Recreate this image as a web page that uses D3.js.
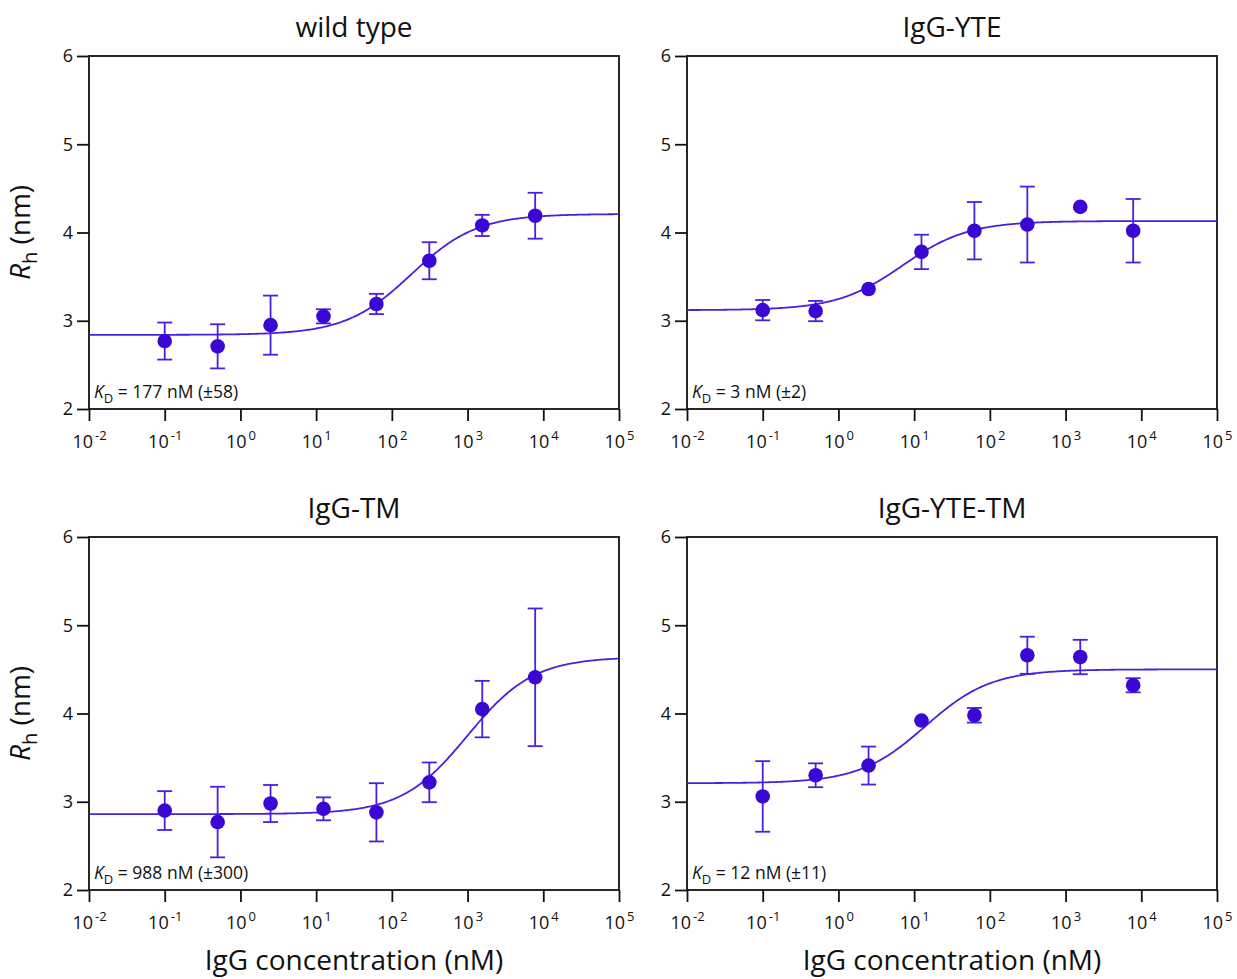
<!DOCTYPE html>
<html>
<head>
<meta charset="utf-8">
<script src="https://cdn.jsdelivr.net/npm/d3@7"></script>
<style>
    body { margin: 0; background: #fff; }
    text { font-family: "Open Sans", "Noto Sans", sans-serif; fill: #111; }
</style>
</head>
<body>
<script>
var svgWidth = 1237;
var svgHeight = 979;

// concentrations of the 5-fold dilution series (nM)
var concentrations = [0.1, 0.5, 2.5, 12.5, 62.5, 312.5, 1562.5, 7812.5];

// panel titles and KD annotation
var titles = ["wild type", "IgG-YTE", "IgG-TM", "IgG-YTE-TM"];
var kdLabels = ["177 nM (\u00b158)", "3 nM (\u00b12)", "988 nM (\u00b1300)", "12 nM (\u00b111)"];

// mean Rh (nm) per panel
var meanWT = [2.77, 2.71, 2.95, 3.05, 3.19, 3.68, 4.08, 4.19];
var meanYTE = [3.12, 3.11, 3.36, 3.78, 4.02, 4.09, 4.29, 4.02];
var meanTM = [2.90, 2.77, 2.98, 2.92, 2.88, 3.22, 4.05, 4.41];
var meanYTETM = [3.06, 3.30, 3.41, 3.92, 3.98, 4.66, 4.64, 4.32];

// error bar half widths (nm)
var errWT = [0.21, 0.25, 0.335, 0.08, 0.115, 0.21, 0.12, 0.26];
var errYTE = [0.115, 0.115, 0, 0.195, 0.325, 0.43, 0, 0.36];
var errTM = [0.22, 0.40, 0.21, 0.13, 0.33, 0.225, 0.32, 0.78];
var errYTETM = [0.40, 0.135, 0.215, 0, 0.083, 0.21, 0.195, 0.08];

// fitted binding curve parameters: baseline, plateau, midpoint (nM)
var fitBottom = [2.84, 3.12, 2.86, 3.21];
var fitTop = [4.21, 4.13, 4.64, 4.50];
var fitMid = [180, 7, 1000, 14];

// tick values
var xTicks = [-2, -1, 0, 1, 2, 3, 4, 5];
var yTicks = [2, 3, 4, 5, 6];

var means = [meanWT, meanYTE, meanTM, meanYTETM];
var errs = [errWT, errYTE, errTM, errYTETM];

var plotW = 530, plotH = 353;
var origins = [[89, 56], [687, 56], [89, 537], [687, 537]];
var markColor = "#3a08d2";
var lineColor = "#4a1fe0";

var svg = d3.select("body").append("svg").attr("width", svgWidth).attr("height", svgHeight);

var x = d3.scaleLog().domain([1e-2, 1e5]).range([0, plotW]);
var y = d3.scaleLinear().domain([2, 6]).range([plotH, 0]);

titles.forEach(function(title, i) {
    var g = svg.append("g").attr("transform", "translate(" + origins[i][0] + "," + origins[i][1] + ")");

    // frame
    g.append("rect")
        .attr("width", plotW).attr("height", plotH)
        .attr("fill", "none").attr("stroke", "#111").attr("stroke-width", 1.8);

    // x axis
    var xAxis = g.append("g").attr("transform", "translate(0," + plotH + ")")
        .call(d3.axisBottom(x).tickValues(xTicks.map(function(e) { return Math.pow(10, e); })).tickSize(12).tickFormat(""));
    xAxis.select(".domain").remove();
    xAxis.selectAll("line").attr("stroke", "#111").attr("stroke-width", 1.8);
    xAxis.selectAll(".tick").each(function(d, j) {
        var t = d3.select(this).append("text")
            .attr("y", 39).attr("text-anchor", "middle")
            .style("font-size", "18px").style("fill", "#111");
        t.append("tspan").text("10");
        t.append("tspan").attr("dy", -8).attr("dx", 2).style("font-size", "13px").text(xTicks[j] < 0 ? "-" + Math.abs(xTicks[j]) : xTicks[j]);
    });

    // y axis
    var yAxis = g.append("g")
        .call(d3.axisLeft(y).tickValues(yTicks).tickSize(12).tickPadding(4).tickFormat(d3.format("d")));
    yAxis.select(".domain").remove();
    yAxis.selectAll("line").attr("stroke", "#111").attr("stroke-width", 1.8);
    yAxis.selectAll("text").style("font-size", "18px").style("fill", "#111")
        .style("font-family", "'Open Sans', 'Noto Sans', sans-serif");

    // title
    g.append("text")
        .attr("x", plotW / 2).attr("y", -19)
        .attr("text-anchor", "middle")
        .style("font-size", "28px")
        .text(title);

    // fitted curve
    var b = fitBottom[i], t = fitTop[i], k = fitMid[i];
    var curve = d3.range(-2, 5.001, 0.02).map(function(e) {
        var c = Math.pow(10, e);
        return [c, b + (t - b) * c / (k + c)];
    });
    g.append("path")
        .datum(curve)
        .attr("d", d3.line().x(function(p) { return x(p[0]); }).y(function(p) { return y(p[1]); }))
        .attr("fill", "none").attr("stroke", lineColor).attr("stroke-width", 1.8);

    // data
    var pts = concentrations.map(function(c, j) { return { c: c, m: means[i][j], e: errs[i][j] }; });
    var bars = g.selectAll(".err").data(pts.filter(function(p) { return p.e > 0; })).join("g").attr("class", "err");
    bars.append("line")
        .attr("x1", function(p) { return x(p.c); }).attr("x2", function(p) { return x(p.c); })
        .attr("y1", function(p) { return y(p.m - p.e); }).attr("y2", function(p) { return y(p.m + p.e); })
        .attr("stroke", lineColor).attr("stroke-width", 1.8);
    [-1, 1].forEach(function(s) {
        bars.append("line")
            .attr("x1", function(p) { return x(p.c) - 7.5; }).attr("x2", function(p) { return x(p.c) + 7.5; })
            .attr("y1", function(p) { return y(p.m + s * p.e); }).attr("y2", function(p) { return y(p.m + s * p.e); })
            .attr("stroke", lineColor).attr("stroke-width", 1.8);
    });
    g.selectAll(".dot").data(pts).join("circle").attr("class", "dot")
        .attr("cx", function(p) { return x(p.c); })
        .attr("cy", function(p) { return y(p.m); })
        .attr("r", 7.3)
        .attr("fill", markColor);

    // KD annotation
    var kd = g.append("text").attr("x", 5).attr("y", plotH - 11).style("font-size", "17.5px");
    kd.append("tspan").style("font-style", "italic").text("K");
    kd.append("tspan").attr("dy", 5).style("font-size", "13px").text("D");
    kd.append("tspan").attr("dy", -5).text(" = " + kdLabels[i]);

    // axis titles
    if (i % 2 === 0) {
        var yl = g.append("text")
            .attr("transform", "translate(-59," + (plotH / 2) + ") rotate(-90)")
            .attr("text-anchor", "middle")
            .style("font-size", "28px");
        yl.append("tspan").style("font-style", "italic").text("R");
        yl.append("tspan").attr("dy", 7).style("font-size", "20px").text("h");
        yl.append("tspan").attr("dy", -7).text(" (nm)");
    }
    if (i >= 2) {
        g.append("text")
            .attr("x", plotW / 2).attr("y", plotH + 80)
            .attr("text-anchor", "middle")
            .style("font-size", "28px")
            .text("IgG concentration (nM)");
    }
});
</script>
</body>
</html>
